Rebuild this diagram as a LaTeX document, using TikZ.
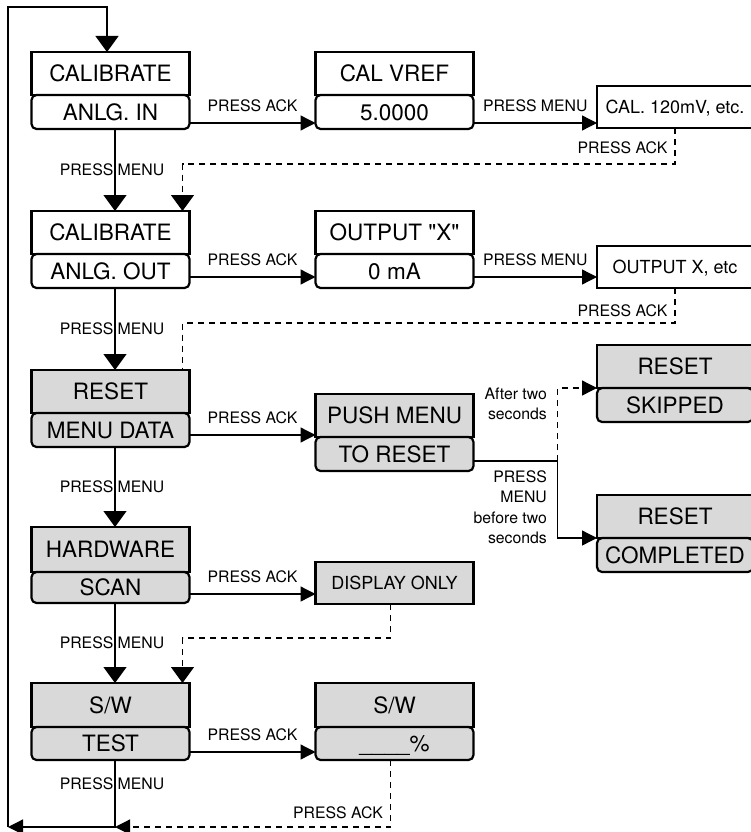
\documentclass[tikz,border=0pt]{standalone}
\usepackage{fontspec}
\newfontfamily\helv{TeX Gyre Heros}
\usetikzlibrary{arrows.meta, positioning, calc}

\definecolor{menugray}{RGB}{217,217,217}

\begin{document}
\begin{tikzpicture}[
    x=1pt, y=-1pt,
    topbox/.style={rectangle, draw, line width=2.2pt, outer sep=0pt, inner sep=0pt, minimum width=158pt, minimum height=43pt, text height=16.2pt, text depth=0pt, font=\helv\fontsize{22.5}{25}\selectfont},
    botbox/.style={topbox, rounded corners=5pt, minimum height=34pt},
    onebox/.style={topbox, minimum height=42pt, text height=13pt, font=\helv\fontsize{18}{20}\selectfont},
    lbl/.style={font=\helv\fontsize{15.8}{20.3}\selectfont, inner sep=1pt},
    conn/.style={line width=1.3pt},
    arrow/.style={conn, -{Triangle[width=23pt, length=16pt]}},
    ackarrow/.style={conn, -{Triangle[width=15pt, length=15pt]}},
    dashconn/.style={conn, dash pattern=on 6pt off 5pt},
]
\useasboundingbox (0,0) rectangle (750,832);

% calibrate analog in
\node[topbox, fill=white, anchor=north] (calin) at (110.5,52) {CALIBRATE};
\node[botbox, fill=white, below=0pt of calin] (anlgin) {ANLG. IN};
\node[topbox, fill=white, anchor=north] (vref) at (394.5,52) {CAL VREF};
\node[botbox, fill=white, below=0pt of vref] (vrefval) {5.0000};
\node[onebox, fill=white, minimum width=156pt, anchor=south] (calmv) at (675,128) {CAL. 120mV, etc.};

% calibrate analog out
\node[topbox, fill=white, anchor=north] (calout) at (110.5,211) {CALIBRATE};
\node[botbox, fill=white, below=0pt of calout] (anlgout) {ANLG. OUT};
\node[topbox, fill=white, anchor=north] (outx) at (394.5,211) {OUTPUT "X"};
\node[botbox, fill=white, below=0pt of outx] (outval) {0 mA};
\node[onebox, fill=white, minimum width=156pt, anchor=south] (outetc) at (675,288) {OUTPUT X, etc};

% reset menu data
\node[topbox, fill=menugray, anchor=north] (reset) at (110.5,370) {RESET};
\node[botbox, fill=menugray, below=0pt of reset] (menudata) {MENU DATA};
\node[topbox, fill=menugray, anchor=north] (pushmenu) at (394.5,394) {PUSH MENU};
\node[botbox, fill=menugray, below=0pt of pushmenu] (toreset) {TO RESET};
\node[topbox, fill=menugray, minimum width=156pt, anchor=north] (rskip) at (675,345) {RESET};
\node[botbox, fill=menugray, minimum width=156pt, below=0pt of rskip] (skipped) {SKIPPED};
\node[topbox, fill=menugray, minimum width=156pt, anchor=north] (rdone) at (675,495) {RESET};
\node[botbox, fill=menugray, minimum width=156pt, below=0pt of rdone] (completed) {COMPLETED};

% hardware scan
\node[topbox, fill=menugray, minimum height=45pt, anchor=north] (hardware) at (110.5,527) {HARDWARE};
\node[botbox, fill=menugray, minimum height=31pt, below=0pt of hardware] (scan) {SCAN};
\node[onebox, fill=menugray, anchor=south] (display) at (394.5,604) {DISPLAY ONLY};

% software test
\node[topbox, fill=menugray, minimum height=44pt, anchor=north] (sw) at (110.5,683) {S/W};
\node[botbox, fill=menugray, minimum height=33pt, below=0pt of sw] (swtest) {TEST};
\node[topbox, fill=menugray, minimum height=44pt, anchor=north] (swres) at (394.5,683) {S/W};
\node[botbox, fill=menugray, minimum height=33pt, below=0pt of swres] (swpct) {\_\_\_\_\%};

\coordinate (looptop) at (8,7);
\coordinate (loopbot) at (8,827);
\coordinate (split) at ($(toreset.south east)+(84,-10)$);
\coordinate (join) at ([xshift=4.5pt]swtest.south |- loopbot);

% row 1
\draw[ackarrow] ([yshift=6pt]anlgin.south east) -- node[lbl, above=10pt] {PRESS ACK} ([yshift=6pt]anlgin.south east -| vrefval.west);
\draw[ackarrow] ([yshift=6pt]vrefval.south east) -- node[lbl, above=10pt] {PRESS MENU} ([yshift=6pt]vrefval.south east -| calmv.west);
\draw[dashconn, arrow] (calmv.south) -- node[lbl, left=6pt, pos=0.56] {PRESS ACK} ++(0,36) -| ([xshift=-7pt]calout.north east);
\draw[arrow] ([xshift=4.5pt]anlgin.south) -- node[lbl, xshift=-3pt] {PRESS MENU} ([xshift=4.5pt]calout.north);

% row 2
\draw[ackarrow] ([yshift=11pt]anlgout.south east) -- node[lbl, above=10pt] {PRESS ACK} ([yshift=11pt]anlgout.south east -| outval.west);
\draw[ackarrow] ([yshift=11pt]outval.south east) -- node[lbl, above=10pt] {PRESS MENU} ([yshift=11pt]outval.south east -| outetc.west);
\draw[dashconn] (outetc.south) -- node[lbl, left=6pt, pos=0.66] {PRESS ACK} ++(0,35) -| ([xshift=-7pt]reset.north east);
\draw[arrow] ([xshift=4.5pt]anlgout.south) -- node[lbl, xshift=-3pt] {PRESS MENU} ([xshift=4.5pt]reset.north);

% row 3
\draw[ackarrow] ([yshift=12pt]menudata.south east) -- node[lbl, above=10pt] {PRESS ACK} ([yshift=12pt]menudata.south east -| pushmenu.west);
\draw[conn] ([yshift=10pt]toreset.south east) -- (split);
\draw[ackarrow] (split) -- node[lbl, left=9pt, pos=0.6, align=right] {PRESS\\MENU\\before two\\seconds} (split |- rdone.south) -- (rdone.south west);
\draw[dashconn, ackarrow] (split) -- node[lbl, left=9pt, pos=0.78, align=right] {After two\\seconds} (split |- rskip.south) -- (rskip.south west);
\draw[arrow] ([xshift=4.5pt]menudata.south) -- node[lbl, xshift=-3pt] {PRESS MENU} ([xshift=4.5pt]hardware.north);

% row 4
\draw[ackarrow] ([yshift=9pt]scan.south east) -- node[lbl, above=10pt] {PRESS ACK} ([yshift=9pt]scan.south east -| display.west);
\draw[dashconn, arrow] ([xshift=-4pt]display.south) -- ++(0,34) -| ([xshift=-7pt]sw.north east);
\draw[arrow] ([xshift=4.5pt]scan.south) -- node[lbl, xshift=-3pt] {PRESS MENU} ([xshift=4.5pt]sw.north);

% row 5 and loop back
\draw[ackarrow] ([yshift=8pt]swtest.south east) -- node[lbl, above=10pt] {PRESS ACK} ([yshift=8pt]swtest.south east -| swpct.west);
\draw[dashconn, ackarrow] ([xshift=-4pt]swpct.south) -- node[lbl, left=6pt, pos=0.79] {PRESS ACK} ([xshift=-4pt]swpct.south |- loopbot) -- (join);
\draw[ackarrow] ([xshift=4.5pt]swtest.south) -- node[lbl, xshift=-3pt, pos=0.36] {PRESS MENU} (join) -- (loopbot);
\draw[arrow] (loopbot) -- (looptop) -| ([xshift=-3.5pt]calin.north);
\end{tikzpicture}
\end{document}
